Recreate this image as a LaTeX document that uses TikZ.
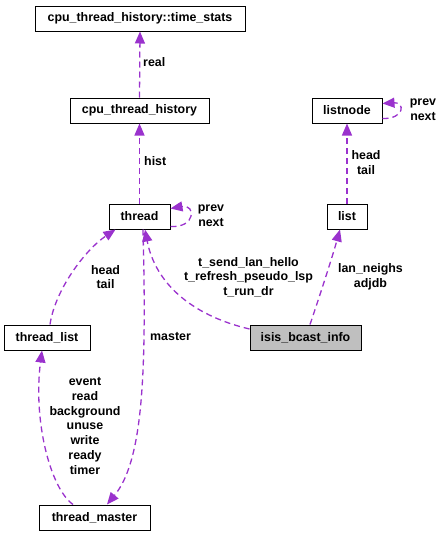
\documentclass[tikz,border=0pt]{standalone}
\usepackage{fontspec}
\setmainfont{Liberation Sans}
\usetikzlibrary{arrows.meta}
\definecolor{edgepurple}{HTML}{9A32CD}
\begin{document}
\begin{tikzpicture}[x=1pt,y=-1pt,>={Triangle[length=12pt,width=10pt]},
  font=\fontsize{12.4}{14.7}\selectfont\bfseries,
  cls/.style={draw,line width=1pt,minimum height=25pt,inner sep=0pt},
  dep/.style={draw=edgepurple,line width=1.3pt,dash pattern=on 6pt off 4pt},
  lbl/.style={inner sep=0pt,align=center}]
 \useasboundingbox (0,0) rectangle (445,536);
 % classes
 \node[cls,minimum width=210pt] (stats) at (140,18.5) {cpu\_thread\_history::time\_stats};
 \node[cls,minimum width=139pt] (hist) at (139.5,110.5) {cpu\_thread\_history};
 \node[cls,minimum width=70pt] (lnode) at (347,110.5) {listnode};
 \node[cls,minimum width=61pt] (thr) at (139.5,216.5) {thread};
 \node[cls,minimum width=40pt] (lst) at (347,216.5) {list};
 \node[cls,minimum width=86pt] (tlist) at (47,337.5) {thread\_list};
 \node[cls,fill=black!25,minimum width=111pt] (isis) at (305.5,337.5) {isis\_bcast\_info};
 \node[cls,minimum width=111pt] (tmaster) at (94.5,517.5) {thread\_master};
 % members
 \draw[dep,->] (hist.north) -- (stats.south);
 \node[lbl,anchor=west] (lreal) at (143,62) {real};
 \draw[dep,->] (thr.north) -- (hist.south);
 \node[lbl,anchor=west] (lhist) at (144,161) {hist};
 \draw[dep,->] ([yshift=-8pt]lnode.east) .. controls (405,119) and (405,102) .. ([yshift=7pt]lnode.east);
 \node[lbl] (lnodeloop) at (423,110) {prev\\next};
 \draw[dep,->] (lst.north) -- (lnode.south);
 \node[lbl] (lheadtail) at (366,162.5) {head\\tail};
 \draw[dep,->] ([yshift=-10pt]thr.east) .. controls (196,228) and (196,204) .. ([yshift=8pt]thr.east);
 \node[lbl] (lthrloop) at (211,216) {prev\\next};
 \draw[dep,->] ([xshift=4.5pt]isis.north) .. controls (320,295) and (332,258) .. ([xshift=-7pt]lst.south);
 \node[lbl] (lneighs) at (370.5,277) {lan\_neighs\\adjdb};
 \draw[dep,->] ([yshift=8.5pt]isis.west) .. controls (190,315) and (155,282) .. ([xshift=5.5pt]thr.south);
 \node[lbl] (ltimers) at (248.5,277) {t\_send\_lan\_hello\\t\_refresh\_pseudo\_lsp\\t\_run\_dr};
 \draw[dep,->] ([xshift=3pt]tlist.north) .. controls (55,290) and (85,250) .. ([xshift=-24pt]thr.south);
 \node[lbl] (lheadtail2) at (105.5,277) {head\\tail};
 \draw[dep,->] ([xshift=3.5pt]thr.south) .. controls (147,380) and (142,462) .. ([xshift=12.5pt]tmaster.north);
 \node[lbl,anchor=west] (lmaster) at (150,337) {master};
 \draw[dep,->] ([xshift=-21.5pt]tmaster.north) .. controls (50,488) and (33,420) .. ([xshift=-5pt]tlist.south);
 \node[lbl] (levents) at (85,426) {event\\read\\background\\unuse\\write\\ready\\timer};
\end{tikzpicture}
\end{document}
